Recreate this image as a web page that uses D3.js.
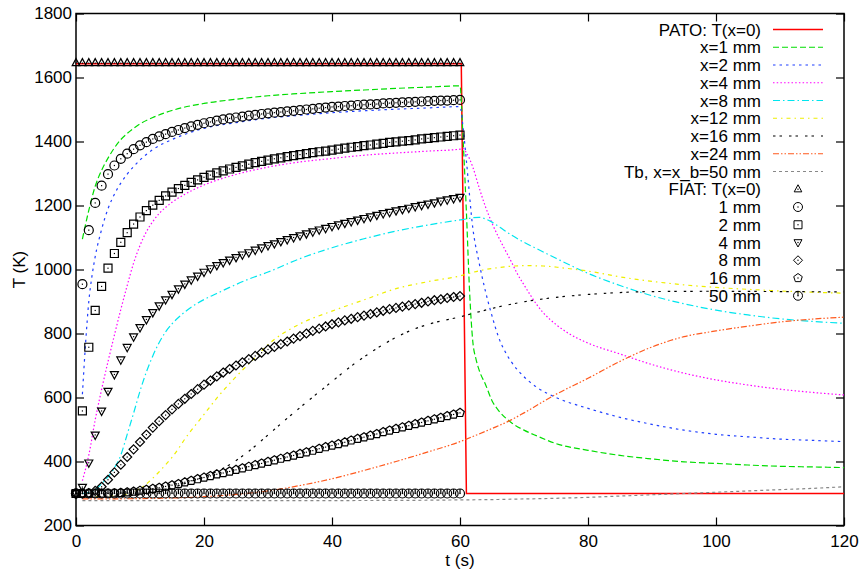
<!DOCTYPE html>
<html>
<head>
<meta charset="utf-8">
<script src="https://cdn.jsdelivr.net/npm/d3@7"></script>
<style>
  body { margin: 0; background: #fff; }
  svg { display: block; font-family: "Liberation Sans", Arial, Helvetica, sans-serif; }
</style>
</head>
<body>
<svg width="863" height="576"></svg>
<script>
// PATO curves (lines), time in s and temperature in K
var pato0Time = [0, 60.2, 61, 120];
var pato0Temp = [1643, 1643, 300, 300];

var pato1Time = [1, 2, 3, 4, 5, 6, 7, 8, 10, 12, 15, 20, 25, 30, 35, 40, 45, 50, 55, 60, 60.5, 61, 61.5, 62, 62.5, 63, 64, 65, 66, 68, 70, 72, 75, 80, 85, 90, 95, 100, 105, 110, 115, 120];
var pato1Temp = [1095, 1185, 1260, 1310, 1348, 1380, 1406, 1425, 1455, 1475, 1497, 1519, 1532, 1543, 1550, 1556, 1561, 1566, 1570, 1574, 1400, 1180, 930, 775, 720, 685, 640, 590, 560, 522, 498, 480, 456, 435, 419, 408, 399, 394, 389, 385, 383, 381];

var pato2Time = [1, 1.5, 2, 2.5, 3, 4, 5, 6, 7, 8, 10, 12, 15, 20, 25, 30, 35, 40, 45, 50, 55, 60, 60.5, 61, 62, 63, 64, 65, 66, 67, 68, 70, 72, 75, 80, 85, 90, 95, 100, 105, 110, 115, 120];
var pato2Temp = [610, 770, 900, 980, 1040, 1125, 1190, 1235, 1270, 1298, 1342, 1375, 1406, 1441, 1459, 1473, 1482, 1490, 1496, 1501, 1505, 1509, 1440, 1340, 1130, 1020, 930, 855, 790, 745, 712, 665, 632, 600, 566, 538, 516, 498, 485, 477, 470, 466, 462];

var pato4Time = [1, 2, 3, 4, 5, 6, 7, 8, 9, 10, 11, 12, 13, 14, 15, 17, 20, 25, 30, 35, 40, 45, 50, 55, 60, 60.5, 61, 62, 63, 64, 65, 66, 67, 68, 69, 70, 71, 72, 73, 74, 75, 77, 80, 85, 90, 95, 100, 105, 110, 115, 120];
var pato4Temp = [340, 420, 530, 625, 712, 795, 875, 950, 1020, 1075, 1118, 1150, 1175, 1194, 1210, 1235, 1264, 1297, 1320, 1336, 1347, 1357, 1364, 1370, 1376, 1378, 1365, 1320, 1255, 1195, 1145, 1102, 1063, 1025, 985, 952, 920, 890, 865, 845, 828, 800, 770, 736, 703, 676, 655, 639, 626, 616, 608];

var pato8Time = [1, 2, 3, 4, 5, 6, 7, 8, 9, 10, 11, 12, 13, 14, 15, 16, 18, 20, 22, 24, 27, 30, 35, 40, 45, 50, 55, 60, 61, 62, 63, 64, 65, 66, 68, 70, 72, 75, 80, 85, 90, 95, 100, 105, 110, 115, 120];
var pato8Temp = [300, 303, 312, 330, 352, 380, 420, 485, 551, 620, 680, 730, 772, 805, 830, 850, 882, 906, 925, 944, 970, 992, 1034, 1068, 1096, 1120, 1139, 1155, 1158, 1162, 1163, 1158, 1148, 1135, 1108, 1085, 1065, 1035, 988, 950, 918, 893, 873, 858, 846, 838, 832];

var pato12Time = [1, 5, 8, 9, 10, 11, 12, 13, 14, 15, 16, 17, 18, 19, 20, 22, 25, 28, 30, 35, 40, 45, 50, 55, 60, 63, 66, 70, 73, 76, 80, 85, 90, 95, 100, 105, 110, 115, 120];
var pato12Temp = [290, 292, 298, 305, 316, 330, 348, 368, 390, 413, 440, 470, 497, 522, 547, 598, 665, 725, 765, 830, 870, 905, 940, 962, 980, 996, 1006, 1012, 1011, 1005, 995, 977, 963, 952, 944, 938, 933, 929, 926];

var pato16Time = [1, 10, 12, 15, 18, 21, 24, 27, 30, 33, 36, 40, 43, 46, 50, 53, 56, 60, 63, 66, 70, 75, 80, 85, 90, 100, 110, 120];
var pato16Temp = [290, 296, 302, 318, 338, 360, 390, 432, 483, 535, 585, 650, 698, 740, 788, 815, 834, 852, 868, 883, 899, 913, 922, 928, 931, 932, 931, 930];

var pato24Time = [1, 10, 20, 25, 30, 35, 40, 45, 50, 55, 60, 62, 65, 68, 70, 75, 80, 85, 90, 95, 100, 105, 110, 115, 120];
var pato24Temp = [283, 284, 290, 297, 308, 325, 346, 372, 400, 430, 462, 478, 503, 530, 552, 610, 660, 713, 758, 790, 808, 823, 836, 845, 851];

var patoBackTime = [1, 20, 40, 55, 60, 65, 70, 75, 80, 85, 90, 95, 100, 105, 110, 115, 120];
var patoBackTemp = [278, 278, 278, 279, 280, 281, 283, 285, 288, 292, 296, 300, 304, 308, 312, 316, 321];

// FIAT results (points), one per second
var fiatTime = [0, 1, 2, 3, 4, 5, 6, 7, 8, 9, 10, 11, 12, 13, 14, 15, 16, 17, 18, 19, 20, 21, 22, 23, 24, 25, 26, 27, 28, 29, 30,
  31, 32, 33, 34, 35, 36, 37, 38, 39, 40, 41, 42, 43, 44, 45, 46, 47, 48, 49, 50, 51, 52, 53, 54, 55, 56, 57, 58, 59, 60];
var fiat0Temp = [1645, 1645, 1645, 1645, 1645, 1645, 1645, 1645, 1645, 1645, 1645, 1645, 1645, 1645, 1645, 1645, 1645, 1645, 1645, 1645, 1645,
  1645, 1645, 1645, 1645, 1645, 1645, 1645, 1645, 1645, 1645, 1645, 1645, 1645, 1645, 1645, 1645, 1645, 1645, 1645, 1645,
  1645, 1645, 1645, 1645, 1645, 1645, 1645, 1645, 1645, 1645, 1645, 1645, 1645, 1645, 1645, 1645, 1645, 1645, 1645, 1645];
var fiat1Temp = [300, 954, 1123, 1208, 1262, 1298, 1325, 1346, 1362, 1376, 1388, 1398, 1408, 1416, 1423, 1430, 1436, 1442, 1447, 1452, 1457,
  1461, 1465, 1469, 1472, 1475, 1478, 1481, 1483, 1486, 1488, 1490, 1492, 1494, 1496, 1498, 1500, 1502, 1504, 1506, 1508,
  1509, 1511, 1512, 1514, 1515, 1516, 1517, 1519, 1520, 1521, 1522, 1523, 1524, 1525, 1526, 1527, 1528, 1528, 1529, 1530];
var fiat2Temp = [300, 558, 757, 872, 947, 1004, 1050, 1085, 1115, 1142, 1164, 1184, 1201, 1216, 1230, 1242, 1253, 1263, 1272, 1280, 1288,
  1295, 1302, 1308, 1314, 1319, 1324, 1329, 1334, 1338, 1342, 1346, 1349, 1353, 1356, 1359, 1362, 1365, 1368, 1370, 1373,
  1376, 1379, 1382, 1384, 1387, 1389, 1392, 1394, 1397, 1399, 1401, 1403, 1405, 1408, 1410, 1412, 1414, 1416, 1418, 1420];
var fiat4Temp = [300, 320, 396, 483, 558, 620, 672, 718, 757, 790, 819, 844, 866, 887, 906, 923, 940, 955, 968, 980, 992,
  1003, 1013, 1022, 1030, 1038, 1046, 1053, 1061, 1068, 1075, 1081, 1088, 1094, 1100, 1106, 1112, 1118, 1124, 1129, 1135,
  1140, 1145, 1150, 1155, 1160, 1165, 1170, 1175, 1179, 1184, 1188, 1192, 1197, 1201, 1205, 1209, 1214, 1218, 1222, 1226];
var fiat8Temp = [300, 300, 301, 308, 321, 343, 366, 390, 414, 438, 461, 484, 506, 526, 545, 563, 580, 596, 611, 626, 640,
  653, 666, 678, 689, 700, 710, 720, 730, 740, 750, 758, 767, 775, 784, 792, 800, 808, 815, 822, 829,
  835, 841, 846, 851, 856, 861, 866, 871, 876, 880, 884, 888, 892, 896, 900, 904, 907, 911, 914, 917];
var fiat16Temp = [300, 300, 300, 300, 300, 300, 301, 302, 304, 306, 309, 312, 315, 318, 322, 326, 330, 335, 340, 345, 350,
  355, 360, 364, 369, 374, 379, 384, 389, 394, 399, 404, 409, 414, 419, 424, 429, 434, 440, 445, 450,
  455, 460, 466, 471, 476, 481, 486, 492, 497, 502, 507, 512, 517, 522, 527, 532, 537, 542, 547, 552];
var fiat50Temp = [300, 300, 300, 300, 300, 300, 300, 300, 300, 300, 300, 300, 300, 300, 300, 300, 300, 300, 300, 300, 300,
  300, 300, 300, 300, 300, 300, 300, 300, 300, 300, 300, 300, 300, 300, 300, 300, 300, 300, 300, 300,
  300, 300, 300, 300, 300, 300, 300, 300, 300, 300, 300, 300, 300, 300, 300, 300, 300, 300, 300, 300];

var xTicks = [0, 20, 40, 60, 80, 100, 120];
var yTicks = [200, 400, 600, 800, 1000, 1200, 1400, 1600, 1800];

var lineLabels = ['PATO: T(x=0)', 'x=1 mm', 'x=2 mm', 'x=4 mm', 'x=8 mm', 'x=12 mm', 'x=16 mm', 'x=24 mm', 'Tb, x=x_b=50 mm'];
var pointLabels = ['FIAT: T(x=0)', '1 mm', '2 mm', '4 mm', '8 mm', '16 mm', '50 mm'];

function main() {
  var svg = d3.select('svg');
  var left = 76, right = 844, top = 13.5, bottom = 525.5;
  var fs = 17;

  var x = d3.scaleLinear().domain([0, 120]).range([left, right]);
  var y = d3.scaleLinear().domain([200, 1800]).range([bottom, top]);

  var lines = [
    {t: pato0Time, v: pato0Temp, color: '#ff0000', dash: null, curve: d3.curveLinear},
    {t: pato1Time, v: pato1Temp, color: '#00dd00', dash: '6,3'},
    {t: pato2Time, v: pato2Temp, color: '#1f3fff', dash: '2.5,4'},
    {t: pato4Time, v: pato4Temp, color: '#ff00ff', dash: '1.5,2.2'},
    {t: pato8Time, v: pato8Temp, color: '#00e5ee', dash: '7,3,1.5,3'},
    {t: pato12Time, v: pato12Temp, color: '#eeee00', dash: '4,4,1.5,4'},
    {t: pato16Time, v: pato16Temp, color: '#000000', dash: '2.5,4,2.5,7'},
    {t: pato24Time, v: pato24Temp, color: '#ff5a1e', dash: '6,2,1.5,2,1.5,2'},
    {t: patoBackTime, v: patoBackTemp, color: '#888888', dash: '3,3'}
  ];
  lines.forEach(function(s, i) { s.label = lineLabels[i]; });

  var points = [
    {v: fiat0Temp, shape: 'triUp'},
    {v: fiat1Temp, shape: 'circle'},
    {v: fiat2Temp, shape: 'square'},
    {v: fiat4Temp, shape: 'triDown'},
    {v: fiat8Temp, shape: 'diamond'},
    {v: fiat16Temp, shape: 'pentagon'},
    {v: fiat50Temp, shape: 'circleBar'}
  ];
  points.forEach(function(s, i) { s.label = pointLabels[i]; });

  // frame
  svg.append('rect')
    .attr('x', left).attr('y', top)
    .attr('width', right - left).attr('height', bottom - top)
    .attr('fill', 'none').attr('stroke', '#000').attr('stroke-width', 1.5);

  svg.append('g').attr('transform', 'translate(0,' + bottom + ')')
    .call(d3.axisBottom(x).tickValues(xTicks).tickFormat(d3.format('d'))
      .tickSizeInner(-8).tickSizeOuter(0).tickPadding(9));
  svg.append('g').attr('transform', 'translate(' + left + ',0)')
    .call(d3.axisLeft(y).tickValues(yTicks).tickFormat(d3.format('d'))
      .tickSizeInner(-8).tickSizeOuter(0).tickPadding(4));
  svg.append('g').attr('transform', 'translate(0,' + top + ')')
    .call(d3.axisTop(x).tickValues(xTicks).tickSizeInner(-8).tickSizeOuter(0).tickFormat(''));
  svg.append('g').attr('transform', 'translate(' + right + ',0)')
    .call(d3.axisRight(y).tickValues(yTicks).tickSizeInner(-8).tickSizeOuter(0).tickFormat(''));

  svg.selectAll('.domain').remove();
  svg.selectAll('.tick line').attr('stroke', '#000').attr('stroke-width', 1.2);
  svg.selectAll('.tick text').attr('font-size', fs).attr('fill', '#000')
    .attr('font-family', '"Liberation Sans", Arial, sans-serif');

  svg.append('text')
    .attr('transform', 'translate(19,' + ((top + bottom) / 2) + ') rotate(-90)')
    .attr('text-anchor', 'middle').attr('font-size', fs).attr('dy', '0.36em')
    .text('T (K)');
  svg.append('text')
    .attr('x', x(60)).attr('y', 566)
    .attr('text-anchor', 'middle').attr('font-size', fs)
    .text('t (s)');

  var plot = svg.append('g');

  lines.forEach(function(s) {
    var pts = s.t.map(function(t, i) { return [t, s.v[i]]; });
    var line = d3.line()
      .x(function(d) { return x(d[0]); })
      .y(function(d) { return y(d[1]); })
      .curve(s.curve || d3.curveMonotoneX);
    plot.append('path')
      .datum(pts)
      .attr('d', line)
      .attr('fill', 'none')
      .attr('stroke', s.color)
      .attr('stroke-width', s.dash ? 1.2 : 1.5)
      .attr('stroke-dasharray', s.dash);
  });

  function drawMarker(g, shape) {
    var p;
    if (shape == 'circle' || shape == 'circleBar') {
      g.append('circle').attr('r', 4.5);
      if (shape == 'circleBar') g.append('path').attr('d', 'M0,-4.5V0');
    } else {
      if (shape == 'triUp') p = 'M0,-4.5L3.8,2.6L-3.8,2.6Z';
      if (shape == 'triDown') p = 'M0,4.5L4,-2.8L-4,-2.8Z';
      if (shape == 'square') p = 'M-4,-4H4V4H-4Z';
      if (shape == 'diamond') p = 'M0,-4.5L4.5,0L0,4.5L-4.5,0Z';
      if (shape == 'pentagon') {
        p = d3.range(5).map(function(k) {
          var a = -Math.PI / 2 + k * 2 * Math.PI / 5;
          return (k ? 'L' : 'M') + (4.5 * Math.cos(a)).toFixed(2) + ',' + (4.5 * Math.sin(a)).toFixed(2);
        }).join('') + 'Z';
      }
      g.append('path').attr('d', p);
    }
    g.append('rect').attr('x', -0.6).attr('y', -0.6).attr('width', 1.2).attr('height', 1.2)
      .attr('fill', '#000').attr('stroke', 'none');
  }

  points.forEach(function(s) {
    var m = plot.selectAll(null)
      .data(fiatTime.map(function(t, i) { return [t, s.v[i]]; }))
      .enter().append('g')
      .attr('transform', function(d) { return 'translate(' + x(d[0]) + ',' + y(d[1]) + ')'; })
      .attr('fill', 'none').attr('stroke', '#000').attr('stroke-width', 1.2);
    m.each(function() { drawMarker(d3.select(this), s.shape); });
  });

  // key, top right, right-justified text
  var key = svg.append('g');
  var rowY = function(i) { return 29.5 + i * 17.75; };
  lines.forEach(function(s, i) {
    key.append('text')
      .attr('x', 761).attr('y', rowY(i)).attr('dy', '0.36em')
      .attr('text-anchor', 'end').attr('font-size', fs)
      .text(s.label);
    key.append('line')
      .attr('x1', 773).attr('x2', 823).attr('y1', rowY(i)).attr('y2', rowY(i))
      .attr('stroke', s.color).attr('stroke-width', s.dash ? 1.2 : 1.5)
      .attr('stroke-dasharray', s.dash);
  });
  points.forEach(function(s, j) {
    var i = j + lines.length;
    key.append('text')
      .attr('x', 761).attr('y', rowY(i)).attr('dy', '0.36em')
      .attr('text-anchor', 'end').attr('font-size', fs)
      .text(s.label);
    var g = key.append('g')
      .attr('transform', 'translate(798,' + rowY(i) + ')')
      .attr('fill', 'none').attr('stroke', '#000').attr('stroke-width', 1);
    drawMarker(g, s.shape);
  });
}

main();
</script>
</body>
</html>
